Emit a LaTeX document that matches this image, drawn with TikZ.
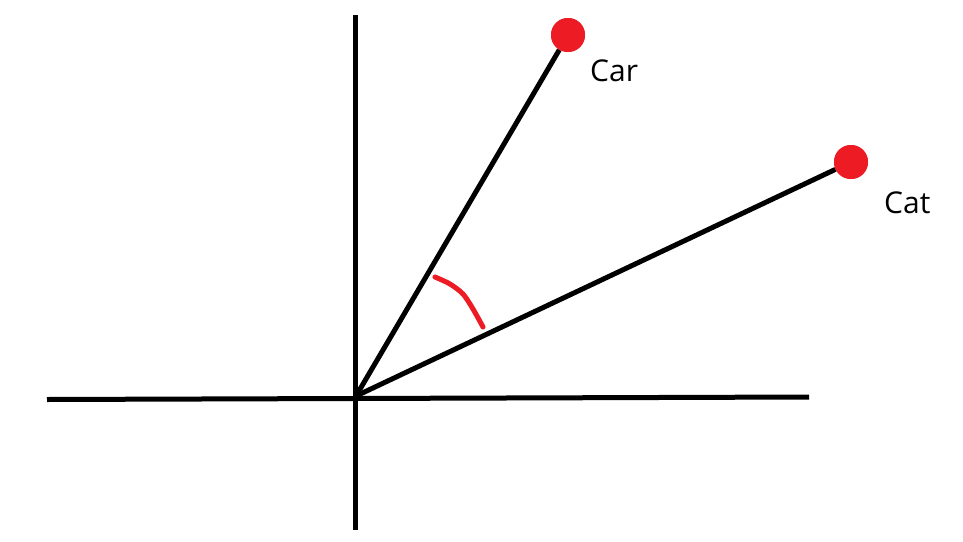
\documentclass[tikz,border=0pt]{standalone}
\usepackage{fontspec}
\setmainfont{Open Sans}
\definecolor{paintred}{HTML}{ED1C24}
\begin{document}
\begin{tikzpicture}[x=1pt,y=-1pt,
  axis/.style={line width=5pt,black},
  vec/.style={line width=5pt,black},
  dot/.style={circle,fill=paintred,draw=none,minimum size=34pt,inner sep=0pt},
  lbl/.style={anchor=base west,inner sep=0pt,font=\fontsize{30}{34}\selectfont},
  anglemark/.style={line width=5pt,paintred,line cap=round}]
\useasboundingbox (0,0) rectangle (963,541);
\fill[white] (0,0) rectangle (963,541);
% axes
\coordinate (xl) at (47,399.5);
\coordinate (xr) at (809,397);
\coordinate (yt) at (355.5,15);
\coordinate (yb) at (355.5,530);
\coordinate (o) at (356,396);
\draw[axis] (xl) -- (xr);
\draw[axis] (yt) -- (yb);
% points
\node[dot] (car) at (568,35) {};
\node[dot] (cat) at (851,162) {};
\draw[vec] (o) -- (car);
\draw[vec] (o) -- (cat);
\node[dot] at (car) {};
\node[dot] at (cat) {};
% labels
\node[lbl] (carlbl) at (590,81) {Car};
\node[lbl] (catlbl) at (884,213) {Cat};
% angle mark
\draw[anglemark] plot[smooth] coordinates {(435,277) (450,284) (463,294) (473,309) (483,327)};
\end{tikzpicture}
\end{document}
